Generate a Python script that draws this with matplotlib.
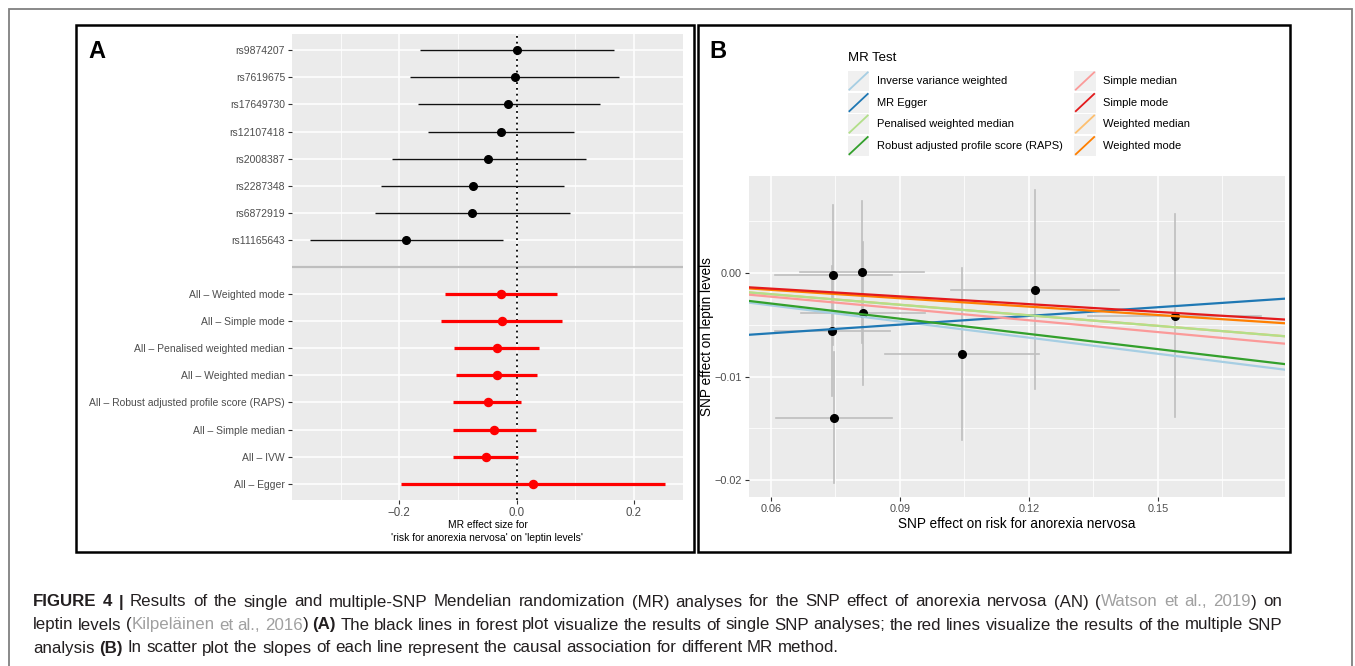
import matplotlib
matplotlib.use("Agg")
import matplotlib.pyplot as plt
from matplotlib.patches import Rectangle
from matplotlib.lines import Line2D
from matplotlib.legend_handler import HandlerBase

plt.rcParams['font.family'] = ['Liberation Sans', 'DejaVu Sans']

# ---- panel A : forest plot ----
snp_names = ['rs9874207', 'rs7619675', 'rs17649730', 'rs12107418',
             'rs2008387', 'rs2287348', 'rs6872919', 'rs11165643']
snp_b = [0.001, -0.003, -0.014, -0.027, -0.048, -0.075, -0.076, -0.188]
snp_lo = [-0.165, -0.181, -0.168, -0.151, -0.213, -0.231, -0.241, -0.353]
snp_hi = [0.167, 0.175, 0.142, 0.098, 0.118, 0.081, 0.091, -0.023]

all_names = ['All – Weighted mode', 'All – Simple mode',
             'All – Penalised weighted median', 'All – Weighted median',
             'All – Robust adjusted profile score (RAPS)', 'All – Simple median',
             'All – IVW', 'All – Egger']
all_b = [-0.027, -0.025, -0.034, -0.034, -0.049, -0.038, -0.052, 0.028]
all_lo = [-0.122, -0.129, -0.107, -0.104, -0.108, -0.108, -0.108, -0.197]
all_hi = [0.069, 0.078, 0.038, 0.035, 0.008, 0.033, 0.003, 0.253]

# ---- panel B : scatter plot ----
snp_x = [0.0745, 0.0742, 0.0746, 0.0813, 0.0815, 0.1044, 0.1214, 0.1539]
snp_y = [-0.0002, -0.0056, -0.0140, 0.0001, -0.0039, -0.0078, -0.0016, -0.0041]
snp_x_lo = [0.0609, 0.0609, 0.0612, 0.0667, 0.0670, 0.0866, 0.1019, 0.1338]
snp_x_hi = [0.0881, 0.0877, 0.0881, 0.0957, 0.0959, 0.1223, 0.1410, 0.1740]
snp_y_lo = [-0.0070, -0.0119, -0.0203, -0.0068, -0.0108, -0.0161, -0.0112, -0.0139]
snp_y_hi = [0.0066, 0.0007, -0.0076, 0.0070, 0.0030, 0.0005, 0.0080, 0.0057]

mr_methods = ['Inverse variance weighted', 'MR Egger', 'Penalised weighted median',
              'Robust adjusted profile score (RAPS)', 'Simple median', 'Simple mode',
              'Weighted median', 'Weighted mode']
mr_slope = [-0.052, 0.028, -0.034, -0.049, -0.038, -0.025, -0.034, -0.027]
mr_intercept = [0, -0.0075, 0, 0, 0, 0, 0, 0]
mr_colors = ['#A6CEE3', '#1F78B4', '#B2DF8A', '#33A02C',
             '#FB9A99', '#E31A1C', '#FDBF6F', '#FF7F00']
draw_order = [6, 0, 1, 2, 4, 3, 7, 5]

W, H = 1355, 666
fig = plt.figure(figsize=(W / 100, H / 100), dpi=100)


def fx(px):
    return px / W


def fy(py):
    return 1 - py / H


BG = '#EBEBEB'
TICKC = '#4D4D4D'

# frames
fig.add_artist(Rectangle((fx(9), -0.02), (1352 - 9) / W, fy(9) + 0.02,
                         transform=fig.transFigure, fill=False,
                         edgecolor='#808080', lw=1.3))
for x0, x1 in [(76, 694), (698, 1290)]:
    fig.add_artist(Rectangle((fx(x0), fy(552)), (x1 - x0) / W, (552 - 25) / H,
                             transform=fig.transFigure, fill=False,
                             edgecolor='black', lw=1.8))
fig.text(fx(88), fy(52), 'A', fontsize=17, fontweight='bold', va='center', ha='left')
fig.text(fx(709), fy(52), 'B', fontsize=17, fontweight='bold', va='center', ha='left')


def gg_style(ax):
    ax.set_facecolor(BG)
    for s in ax.spines.values():
        s.set_visible(False)
    ax.grid(True, which='major', color='white', lw=1.1)
    ax.grid(True, which='minor', color='white', lw=0.55)
    ax.set_axisbelow(True)
    ax.tick_params(which='major', length=3, width=0.8, color='#333333',
                   labelcolor=TICKC, pad=2)
    ax.tick_params(which='minor', length=0)


# ---- A ----
axA = fig.add_axes([fx(292), fy(500), (683 - 292) / W, (500 - 34) / H])
gg_style(axA)
n = len(snp_names)
y_snp = [2 * n + 1 - i for i in range(n)]
y_all = [n - i for i in range(n)]
axA.axhline(n + 1, color='#BEBEBE', lw=1.6, zorder=1.5)
axA.axvline(0, color='black', ls=(0, (1, 2.2)), lw=1.3, zorder=2)
axA.hlines(y_snp, snp_lo, snp_hi, color='#111111', lw=1.0, zorder=3)
axA.plot(snp_b, y_snp, 'o', color='black', ms=5.5, zorder=4)
axA.hlines(y_all, all_lo, all_hi, color='red', lw=2.3, zorder=3)
axA.plot(all_b, y_all, 'o', color='red', ms=5.8, zorder=4)
axA.set_xlim(-0.383, 0.284)
axA.set_ylim(0.4, 2 * n + 1.6)
axA.set_xticks([-0.2, 0.0, 0.2])
axA.set_xticklabels(['\u22120.2', '0.0', '0.2'], fontsize=8.3)
axA.set_xticks([-0.3, -0.1, 0.1], minor=True)
axA.set_yticks(y_snp + y_all)
axA.set_yticklabels(snp_names + all_names, fontsize=7.5)
axA.set_xlabel("MR effect size for\n'risk for anorexia nervosa' on 'leptin levels'",
               fontsize=7.4, linespacing=1.35, labelpad=1)

# ---- B ----
axB = fig.add_axes([fx(749), fy(497), (1285 - 749) / W, (497 - 176) / H])
gg_style(axB)
for i in range(len(snp_x)):
    axB.plot([snp_x[i], snp_x[i]], [snp_y_lo[i], snp_y_hi[i]], color='#BEBEBE', lw=1.2, zorder=2)
    axB.plot([snp_x_lo[i], snp_x_hi[i]], [snp_y[i], snp_y[i]], color='#BEBEBE', lw=1.2, zorder=2)
axB.plot(snp_x, snp_y, 'o', color='black', ms=5.5, zorder=3)
line_handles = [None] * len(mr_methods)
for k, i in enumerate(draw_order):
    ln = axB.axline((0, mr_intercept[i]), slope=mr_slope[i], color=mr_colors[i],
                    lw=1.6, zorder=4 + k * 0.1)
    line_handles[i] = ln
axB.set_xlim(0.0549, 0.1796)
axB.set_ylim(-0.02165, 0.00939)
axB.set_xticks([0.06, 0.09, 0.12, 0.15])
axB.set_xticklabels(['0.06', '0.09', '0.12', '0.15'], fontsize=7.8)
axB.set_xticks([0.075, 0.105, 0.135, 0.165], minor=True)
axB.set_yticks([0.0, -0.01, -0.02])
axB.set_yticklabels(['0.00', '\u22120.01', '\u22120.02'], fontsize=7.8)
axB.set_yticks([0.005, -0.005, -0.015], minor=True)
axB.set_xlabel('SNP effect on risk for anorexia nervosa', fontsize=9.8, labelpad=2)
axB.set_ylabel('SNP effect on leptin levels', fontsize=9.8)
axB.yaxis.set_label_coords((714 - 749) / (1285 - 749), 0.5)


class DiagHandler(HandlerBase):
    def create_artists(self, legend, orig_handle, xdescent, ydescent,
                       width, height, fontsize, trans):
        r = Rectangle((-xdescent, -ydescent), width, height, facecolor='#F0F0F0',
                      edgecolor='none', transform=trans)
        ln = Line2D([-xdescent + 1, -xdescent + width - 1],
                    [-ydescent + 1, -ydescent + height - 1],
                    color=orig_handle.get_color(), lw=1.3, transform=trans)
        return [r, ln]


fig.text(fx(848), fy(58), 'MR Test', fontsize=9.5, va='center', ha='left')
leg = fig.legend(line_handles, mr_methods, ncol=2,
                 loc='upper left', bbox_to_anchor=(fx(848), fy(71)),
                 bbox_transform=fig.transFigure, frameon=False,
                 fontsize=8, handler_map={Line2D: DiagHandler()},
                 handlelength=1.9, handleheight=2.39, labelspacing=0.14,
                 handletextpad=0.7, columnspacing=1.05, borderpad=0,
                 borderaxespad=0)

# ---- caption ----
DARK = '#231F20'
GREY = '#A0A0A0'
FS = 12.2
cap_lines = [
    [('FIGURE 4 |', DARK, 'bold'),
     ('Results of the single and multiple-SNP Mendelian randomization (MR) analyses for the SNP effect of anorexia nervosa (AN) (', DARK, 'normal'),
     ('Watson et al., 2019', GREY, 'normal'),
     (') on', DARK, 'normal')],
    [('leptin levels (', DARK, 'normal'),
     ('Kilpeläinen et al., 2016', GREY, 'normal'),
     (')', DARK, 'normal'),
     ('(A)', DARK, 'bold'),
     ('The black lines in forest plot visualize the results of single SNP analyses; the red lines visualize the results of the multiple SNP', DARK, 'normal')],
    [('analysis', DARK, 'normal'),
     ('(B)', DARK, 'bold'),
     ('In scatter plot the slopes of each line represent the causal association for different MR method.', DARK, 'normal')],
]
# space between one piece and the next
cap_spaces = [[True, False, False], [False, False, True, True], [True, True]]
cap_justify = [True, True, False]
cap_y = [602, 625, 648]
cap_x0, cap_x1 = 33, 1282

renderer = fig.canvas.get_renderer()
t1 = fig.text(0, 0, 'x x', fontsize=FS)
t2 = fig.text(0, 0, 'xx', fontsize=FS)
space_w = t1.get_window_extent(renderer).width - t2.get_window_extent(renderer).width
t1.remove()
t2.remove()

for segs, spaces, just, yy in zip(cap_lines, cap_spaces, cap_justify, cap_y):
    tokens = []
    for j, (txt, col, wt) in enumerate(segs):
        for k, part in enumerate(txt.split(' ')):
            gap = k > 0 or (j > 0 and spaces[j - 1])
            t = fig.text(0, fy(yy), part, fontsize=FS, color=col,
                         fontweight=wt, va='center', ha='left')
            tokens.append((t, t.get_window_extent(renderer).width, gap))
    n_gaps = sum(1 for tk in tokens if tk[2])
    natural = sum(tk[1] for tk in tokens) + n_gaps * space_w
    gap_w = space_w
    if just and n_gaps:
        gap_w = space_w + (cap_x1 - cap_x0 - natural) / n_gaps
    xpix = cap_x0
    for t, w, gap in tokens:
        if gap:
            xpix += gap_w
        t.set_x(fx(xpix))
        xpix += w

fig.savefig('out.png', dpi=100)
